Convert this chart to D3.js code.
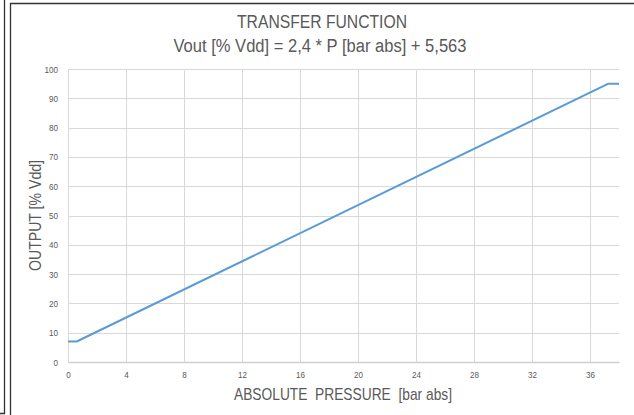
<!DOCTYPE html>
<html>
<head>
<meta charset="utf-8">
<script src="https://cdn.jsdelivr.net/npm/d3@7"></script>
<style>
  body { margin: 0; background: #fff; }
  text { font-family: "Liberation Sans Narrow", "Arial Narrow", "Liberation Sans", sans-serif; fill: #595959; }
</style>
</head>
<body>
<svg id="chart"></svg>
<script>
// pressure [bar abs] vs output [% Vdd]
var pressure = [0, 0.6, 37.27, 38];
var output = [7, 7, 95, 95];
var xTicks = [0, 4, 8, 12, 16, 20, 24, 28, 32, 36];
var yTicks = [0, 10, 20, 30, 40, 50, 60, 70, 80, 90, 100];

var svgWidth = 634, svgHeight = 415;
var margin = { top: 69, right: 15, bottom: 53, left: 68 };
var width = svgWidth - margin.left - margin.right;
var height = svgHeight - margin.top - margin.bottom;

var svg = d3.select("#chart")
  .attr("width", svgWidth)
  .attr("height", svgHeight);

// frame lines
svg.append("path")
  .attr("d", "M4.5,0 V413.5 H0")
  .attr("fill", "none").attr("stroke", "#333").attr("stroke-width", 1.3);
svg.append("path")
  .attr("d", "M10.5,415 V3.5 H634")
  .attr("fill", "none").attr("stroke", "#333").attr("stroke-width", 1.3);

var g = svg.append("g")
  .attr("transform", "translate(" + margin.left + "," + margin.top + ")");

var x = d3.scaleLinear().domain([0, 38]).range([0, width]);
var y = d3.scaleLinear().domain([0, 100]).range([height, 0]);

// grid
g.append("g").selectAll("line")
  .data(yTicks.slice(1))
  .enter().append("line")
  .attr("x1", 0).attr("x2", width)
  .attr("y1", function(d) { return Math.round(y(d)) + 0.5; })
  .attr("y2", function(d) { return Math.round(y(d)) + 0.5; })
  .attr("stroke", "#d9d9d9").attr("stroke-width", 1);

g.append("g").selectAll("line")
  .data(xTicks.slice(1))
  .enter().append("line")
  .attr("y1", 0).attr("y2", height)
  .attr("x1", function(d) { return Math.round(x(d)) + 0.5; })
  .attr("x2", function(d) { return Math.round(x(d)) + 0.5; })
  .attr("stroke", "#d9d9d9").attr("stroke-width", 1);

// axes
var xAxis = g.append("g")
  .attr("transform", "translate(0," + height + ")")
  .call(d3.axisBottom(x).tickValues(xTicks).tickSize(0).tickPadding(9));
xAxis.select(".domain").attr("stroke", "#d0d0d0").attr("stroke-width", 1.5);
xAxis.selectAll("text").style("font-size", "9.5px").attr("fill", "#595959")
  .attr("transform", "scale(0.85,1)");

var yAxis = g.append("g")
  .call(d3.axisLeft(y).tickValues(yTicks).tickSize(0).tickPadding(10));
yAxis.select(".domain").attr("stroke", "#d9d9d9").attr("stroke-width", 1);
yAxis.selectAll("text").style("font-size", "9.5px").attr("fill", "#595959")
  .attr("transform", "scale(0.85,1)")
  .attr("x", -10 / 0.85);

// line
var line = d3.line()
  .x(function(d, i) { return x(pressure[i]); })
  .y(function(d) { return y(d); });

g.append("path")
  .datum(output)
  .attr("fill", "none")
  .attr("stroke", "#5b9bd5")
  .attr("stroke-width", 2)
  .attr("stroke-linejoin", "round")
  .attr("d", line);

// titles
svg.append("text")
  .attr("x", 322).attr("y", 28)
  .attr("text-anchor", "middle")
  .style("font-size", "18px")
  .attr("textLength", 170).attr("lengthAdjust", "spacingAndGlyphs")
  .text("TRANSFER FUNCTION");
svg.append("text")
  .attr("x", 320).attr("y", 52)
  .attr("text-anchor", "middle")
  .style("font-size", "18px")
  .attr("textLength", 293).attr("lengthAdjust", "spacingAndGlyphs")
  .text("Vout [% Vdd] = 2,4 * P [bar abs] + 5,563");

svg.append("text")
  .attr("x", 343).attr("y", 400)
  .attr("text-anchor", "middle")
  .style("font-size", "17px")
  .attr("xml:space", "preserve")
  .attr("textLength", 218).attr("lengthAdjust", "spacingAndGlyphs")
  .text("ABSOLUTE  PRESSURE  [bar abs]");

svg.append("text")
  .attr("transform", "translate(41," + (margin.top + height / 2) + ") rotate(-90)")
  .attr("text-anchor", "middle")
  .style("font-size", "17px")
  .attr("textLength", 111).attr("lengthAdjust", "spacingAndGlyphs")
  .text("OUTPUT [% Vdd]");
</script>
</body>
</html>
